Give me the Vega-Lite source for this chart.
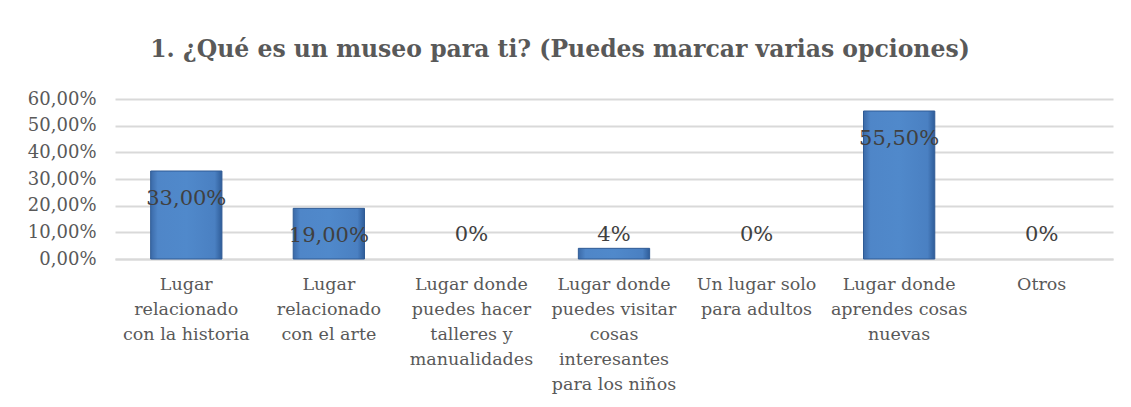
{
  "$schema": "https://vega.github.io/schema/vega-lite/v6.json",
  "width": 998,
  "height": 160,
  "autosize": {"type": "none"},
  "padding": {"left": 115, "top": 99, "right": 18, "bottom": 148},
  "background": "white",
  "title": {
    "text": "1. ¿Qué es un museo para ti? (Puedes marcar varias opciones)",
    "font": "DejaVu Serif",
    "fontSize": 23.5,
    "fontWeight": "bold",
    "color": "#595959",
    "anchor": "middle",
    "dx": -54,
    "offset": 29
  },
  "data": {
    "values": [
      {"cat": "Lugar relacionado con la historia", "value": 0.33, "label": "33,00%"},
      {"cat": "Lugar relacionado con el arte", "value": 0.19, "label": "19,00%"},
      {"cat": "Lugar donde puedes hacer talleres y manualidades", "value": 0, "label": "0%"},
      {"cat": "Lugar donde puedes visitar cosas interesantes para los niños", "value": 0.04, "label": "4%"},
      {"cat": "Un lugar solo para adultos", "value": 0, "label": "0%"},
      {"cat": "Lugar donde aprendes cosas nuevas", "value": 0.555, "label": "55,50%"},
      {"cat": "Otros", "value": 0, "label": "0%"}
    ]
  },
  "config": {
    "view": {"stroke": null},
    "font": "DejaVu Serif"
  },
  "encoding": {
    "x": {
      "field": "cat",
      "type": "nominal",
      "sort": null,
      "scale": {"paddingInner": 0.5, "paddingOuter": 0.25},
      "axis": {
        "title": null,
        "labelAngle": 0,
        "labelFont": "DejaVu Serif",
        "labelFontSize": 17.5,
        "labelColor": "#595959",
        "labelLineHeight": 25,
        "labelPadding": 16,
        "labelBaseline": "top",
        "labelOverlap": false,
        "ticks": false,
        "domainColor": "#d9d9d9",
        "domainWidth": 2,
        "labelLimit": 300,
        "labelExpr": "{'Lugar relacionado con la historia': ['Lugar','relacionado','con la historia'], 'Lugar relacionado con el arte': ['Lugar','relacionado','con el arte'], 'Lugar donde puedes hacer talleres y manualidades': ['Lugar donde','puedes hacer','talleres y','manualidades'], 'Lugar donde puedes visitar cosas interesantes para los niños': ['Lugar donde','puedes visitar','cosas','interesantes','para los niños'], 'Un lugar solo para adultos': ['Un lugar solo','para adultos'], 'Lugar donde aprendes cosas nuevas': ['Lugar donde','aprendes cosas','nuevas'], 'Otros': ['Otros']}[datum.label]"
      }
    },
    "y": {
      "field": "value",
      "type": "quantitative",
      "scale": {"domain": [0, 0.6], "nice": false},
      "axis": {
        "title": null,
        "values": [0, 0.1, 0.2, 0.3, 0.4, 0.5, 0.6],
        "labelExpr": "replace(format(datum.value * 100, '.2f'), '.', ',') + '%'",
        "labelFont": "DejaVu Serif",
        "labelFontSize": 18,
        "labelColor": "#595959",
        "labelPadding": 19,
        "labelOverlap": false,
        "labelBound": false,
        "ticks": false,
        "domain": false,
        "gridColor": "#d9d9d9",
        "gridWidth": 2
      }
    }
  },
  "layer": [
    {
      "mark": {
        "type": "bar",
        "stroke": "#2f5b95",
        "strokeWidth": 1,
        "color": {
          "gradient": "linear",
          "x1": 0, "y1": 0, "x2": 1, "y2": 0,
          "stops": [
            {"offset": 0, "color": "#3b6aa8"},
            {"offset": 0.1, "color": "#4f86c8"},
            {"offset": 0.5, "color": "#5089cb"},
            {"offset": 0.9, "color": "#4a80c2"},
            {"offset": 1, "color": "#2f5d99"}
          ]
        }
      },
      "encoding": {
        "strokeOpacity": {"condition": {"test": "datum.value == 0", "value": 0}, "value": 1},
        "fillOpacity": {"condition": {"test": "datum.value == 0", "value": 0}, "value": 1}
      }
    },
    {
      "transform": [{"filter": "datum.value >= 0.1"}],
      "mark": {"type": "text", "fontSize": 21, "color": "#404040", "baseline": "middle", "dy": 28, "font": "DejaVu Serif"},
      "encoding": {
        "text": {"field": "label"}
      }
    },
    {
      "transform": [{"filter": "datum.value < 0.1"}],
      "mark": {"type": "text", "fontSize": 21, "color": "#404040", "baseline": "middle", "dy": -24, "font": "DejaVu Serif"},
      "encoding": {
        "y": {
          "datum": 0,
          "type": "quantitative",
          "scale": {"domain": [0, 0.6], "nice": false},
          "axis": {
            "title": null,
            "values": [0, 0.1, 0.2, 0.3, 0.4, 0.5, 0.6],
            "labelExpr": "replace(format(datum.value * 100, '.2f'), '.', ',') + '%'",
            "labelFont": "DejaVu Serif",
            "labelFontSize": 18,
            "labelColor": "#595959",
            "labelPadding": 19,
            "labelOverlap": false,
            "labelBound": false,
            "ticks": false,
            "domain": false,
            "gridColor": "#d9d9d9",
            "gridWidth": 2
          }
        },
        "text": {"field": "label"}
      }
    }
  ]
}
